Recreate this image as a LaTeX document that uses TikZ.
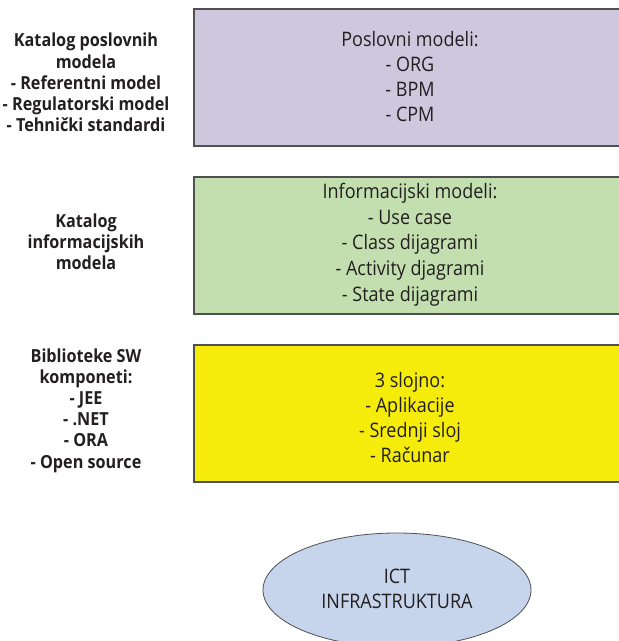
\documentclass[tikz,border=0pt]{standalone}
\usepackage{fontspec}
\setmainfont{Open Sans}[FakeStretch=0.9]
\usetikzlibrary{shapes.geometric}
\definecolor{purp}{HTML}{CFC7DD}
\definecolor{grn}{HTML}{C3DFB0}
\definecolor{yel}{HTML}{F5EC0B}
\definecolor{ictblue}{HTML}{C6D4EC}
\definecolor{boxline}{HTML}{505050}
\definecolor{txt}{HTML}{231F20}
\begin{document}
\begin{tikzpicture}[x=1pt,y=-1pt,
  layerbox/.style={draw=boxline, line width=1.2pt, minimum width=432pt,
    minimum height=137pt, inner sep=0pt},
  boxtext/.style={align=center, text=txt, inner sep=0pt,
    font=\fontsize{20}{25}\selectfont},
  sidelabel/.style={align=center, text=txt, inner sep=0pt,
    font=\bfseries\fontsize{18}{21.2}\selectfont}]
\useasboundingbox (0,0) rectangle (619,641);
\clip (0,0) rectangle (619,641);
\node[layerbox, fill=purp] (pos) at (410,77.5) {};
\node[layerbox, fill=grn] (inf) at (410,245.5) {};
\node[layerbox, fill=yel] (sw) at (410,413.5) {};
\node[boxtext] (post) at (410,76) {Poslovni modeli:\\- ORG\\- BPM\\- CPM};
\node[boxtext, font=\fontsize{20}{25.7}\selectfont] (inft) at (410,244.5) {Informacijski modeli:\\- Use case\\- Class dijagrami\\- Activity djagrami\\- State dijagrami};
\node[boxtext] (swt) at (410,417) {3 slojno:\\- Aplikacije\\- Srednji sloj\\- Računar};
\node[sidelabel] (posl) at (86,82.5) {Katalog poslovnih\\modela\\- Referentni model\\- Regulatorski model\\- Tehnički standardi};
\node[sidelabel] (infl) at (86,242) {Katalog\\informacijskih\\modela};
\node[sidelabel] (swl) at (86,410.5) {Biblioteke SW\\komponeti:\\- JEE\\- .NET\\- ORA\\- Open source};
\node[ellipse, draw=boxline, line width=0.8pt, fill=ictblue, minimum width=268pt,
  minimum height=114pt, inner sep=0pt] (ict) at (397,590) {};
\node[boxtext] (ictt) at (397,589) {ICT\\INFRASTRUKTURA};
\end{tikzpicture}
\end{document}
